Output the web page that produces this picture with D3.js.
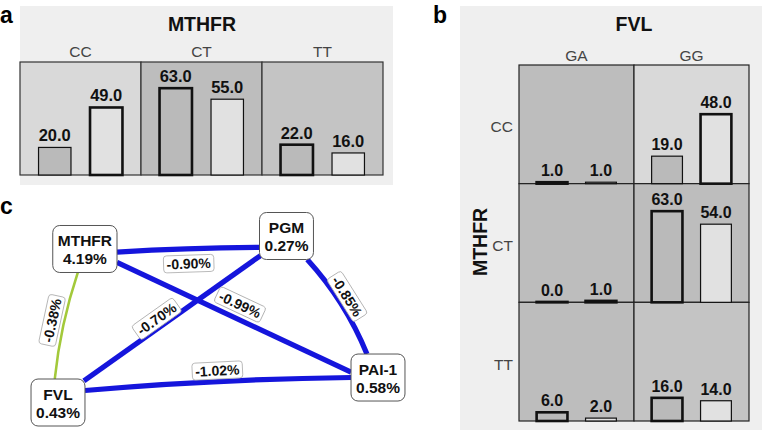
<!DOCTYPE html>
<html><head><meta charset="utf-8">
<script src="https://cdn.jsdelivr.net/npm/d3@7"></script>
<style>
body{margin:0;background:#fff;}
svg{display:block;font-family:"Liberation Sans",Arial,sans-serif;}
</style></head>
<body><svg id="c" width="762" height="434"></svg>
<script>
// ---------- DATA ----------
const mthfrGenotypes = ["CC", "CT", "TT"];
const fvlGenotypes = ["GA", "GG"];
// panel a: MTHFR genotype counts, two groups
const panelAGroup1 = [20, 63, 22];
const panelAGroup2 = [49, 55, 16];
const panelAGroup1Over = [false, true, true];
const panelAGroup2Over = [true, false, false];
const panelACellLevel = [0, 2, 1];
// panel b: rows = MTHFR, columns = FVL
const panelBGroup1 = [[1, 19], [0, 63], [6, 16]];
const panelBGroup2 = [[1, 48], [1, 54], [2, 14]];
const panelBGroup1Over = [[true, false], [true, true], [true, true]];
const panelBGroup2Over = [[false, true], [true, false], [false, false]];
const panelBCellLevel = [[2, 0], [2, 2], [2, 1]];
// panel c: interaction network
const nodeNames = ["MTHFR", "PGM", "PAI-1", "FVL"];
const nodeValues = ["4.19%", "0.27%", "0.58%", "0.43%"];
const edgeSource = ["MTHFR", "MTHFR", "PGM", "PGM", "FVL", "MTHFR"];
const edgeTarget = ["PGM", "PAI-1", "FVL", "PAI-1", "PAI-1", "FVL"];
const edgeValues = [-0.90, -0.99, -0.70, -0.85, -1.02, -0.38];

// ---------- LAYOUT ----------
const nodeLayoutX = [8.4, 71.4, 100, 0];
const nodeLayoutY = [7.8, 0, 85, 100];
const edgeSrcAnchor = [[1, 0.13], [1, 0.57], [-0.96, 0.83], [0.77, 1], [1, -0.51], [-0.22, 1]];
const edgeTgtAnchor = [[-1, 0.48], [-1, -0.23], [0.96, -0.92], [-0.41, -1], [-1, 0], [-0.12, -1]];
const edgeBend = [-1, 0, 0, -5, -2.5, 3];
const edgeLabelT = [0.5, 0.5, 0.56, 0.47, 0.5, 0.48];
const edgeLabelOffset = [14, -14, 8.5, -14, -13.5, 15];

const svg = d3.select("#c");
const shade = ["#d9d9d9", "#c4c4c4", "#bdbdbd"];
const fill1 = "#bababa", fill2 = "#e1e1e1";
const yMax = 82;
const fmtNum = v => d3.format(".1f")(v);
const fmtPct = v => d3.format(".2f")(v).replace("\u2212", "-") + "%";

function bars(g, x0, x1, yBottom, yTop, v1, v2, o1, o2, labelSize) {
  const inner = d3.scaleBand().domain([0, 1]).range([x0, x1]).paddingInner(0.37).paddingOuter(0.36);
  const y = d3.scaleLinear().domain([0, yMax]).range([yBottom, yTop]);
  const data = [{i: 0, v: v1, o: o1, f: fill1}, {i: 1, v: v2, o: o2, f: fill2}];
  g.selectAll(null).data(data).enter().append("rect")
    .attr("x", d => inner(d.i)).attr("width", inner.bandwidth())
    .attr("y", d => Math.min(y(d.v), yBottom - 0.4)).attr("height", d => Math.max(yBottom - y(d.v), 0.4))
    .attr("fill", d => d.f).attr("stroke", "#111")
    .attr("stroke-width", d => d.o ? 2.6 : 1.2);
  g.selectAll(null).data(data).enter().append("text")
    .attr("x", d => inner(d.i) + inner.bandwidth() / 2)
    .attr("y", d => y(d.v) - 6)
    .attr("text-anchor", "middle").attr("font-weight", "bold")
    .attr("font-size", labelSize).attr("fill", "#111")
    .text(d => fmtNum(d.v));
}

// ---------- PANEL A ----------
{
  svg.append("rect").attr("x", 20).attr("y", 6).attr("width", 373).attr("height", 179).attr("fill", "#efefef");
  const gx = d3.scaleBand().domain(mthfrGenotypes).range([20, 383]);
  const top = 62, bottom = 175;
  const g = svg.append("g");
  mthfrGenotypes.forEach((k, i) => {
    g.append("rect").attr("x", gx(k)).attr("y", top).attr("width", gx.bandwidth()).attr("height", bottom - top)
      .attr("fill", shade[panelACellLevel[i]]).attr("stroke", "#333").attr("stroke-width", 1.2);
  });
  mthfrGenotypes.forEach((k, i) => {
    bars(g, gx(k), gx(k) + gx.bandwidth(), bottom, top, panelAGroup1[i], panelAGroup2[i], panelAGroup1Over[i], panelAGroup2Over[i], 16.5);
    g.append("text").attr("x", gx(k) + gx.bandwidth() / 2).attr("y", 57).attr("text-anchor", "middle")
      .attr("font-size", 15.5).attr("fill", "#444").text(k);
  });
  g.append("text").attr("x", 202).attr("y", 31).attr("text-anchor", "middle").attr("font-weight", "bold")
    .attr("font-size", 19.5).attr("fill", "#111").text("MTHFR");
  svg.append("text").attr("x", 0).attr("y", 23).attr("font-weight", "bold").attr("font-size", 23).text("a");
}

// ---------- PANEL B ----------
{
  svg.append("rect").attr("x", 460).attr("y", 6).attr("width", 302).attr("height", 424).attr("fill", "#efefef");
  const cx = d3.scaleBand().domain(fvlGenotypes).range([519, 749]);
  const ry = d3.scaleBand().domain(mthfrGenotypes).range([65, 421]);
  const g = svg.append("g");
  mthfrGenotypes.forEach((r, ri) => fvlGenotypes.forEach((c, ci) => {
    g.append("rect").attr("x", cx(c)).attr("y", ry(r)).attr("width", cx.bandwidth()).attr("height", ry.bandwidth())
      .attr("fill", shade[panelBCellLevel[ri][ci]]).attr("stroke", "#222").attr("stroke-width", 1.2);
  }));
  mthfrGenotypes.forEach((r, ri) => fvlGenotypes.forEach((c, ci) => {
    bars(g, cx(c), cx(c) + cx.bandwidth(), ry(r) + ry.bandwidth(), ry(r),
      panelBGroup1[ri][ci], panelBGroup2[ri][ci], panelBGroup1Over[ri][ci], panelBGroup2Over[ri][ci], 16);
  }));
  fvlGenotypes.forEach(c => g.append("text").attr("x", cx(c) + cx.bandwidth() / 2).attr("y", 61)
    .attr("text-anchor", "middle").attr("font-size", 15.5).attr("fill", "#444").text(c));
  mthfrGenotypes.forEach(r => g.append("text").attr("x", 513).attr("y", ry(r) + ry.bandwidth() / 2 + 8)
    .attr("text-anchor", "end").attr("font-size", 15.5).attr("fill", "#444").text(r));
  g.append("text").attr("x", 634).attr("y", 31).attr("text-anchor", "middle").attr("font-weight", "bold")
    .attr("font-size", 19.5).attr("fill", "#111").text("FVL");
  g.append("text").attr("transform", "translate(487,242) rotate(-90)").attr("text-anchor", "middle")
    .attr("font-weight", "bold").attr("font-size", 19.5).attr("fill", "#111").text("MTHFR");
  svg.append("text").attr("x", 433).attr("y", 23).attr("font-weight", "bold").attr("font-size", 23).text("b");
}

// ---------- PANEL C ----------
{
  svg.append("text").attr("x", 0).attr("y", 214).attr("font-weight", "bold").attr("font-size", 23).text("c");
  const lx = d3.scaleLinear().domain([0, 100]).range([58, 378]);
  const ly = d3.scaleLinear().domain([0, 100]).range([236, 402.5]);
  const measure = svg.append("text").attr("font-weight", "bold").attr("font-size", 15.5);
  const nodes = nodeNames.map((n, i) => {
    measure.text(n); const w1 = measure.node().getComputedTextLength();
    measure.text(nodeValues[i]); const w2 = measure.node().getComputedTextLength();
    return {name: n, value: nodeValues[i], x: lx(nodeLayoutX[i]), y: ly(nodeLayoutY[i]),
      hw: (Math.max(w1, w2) + 10) / 2, hh: 23.5};
  });
  measure.remove();
  const byName = new Map(nodes.map(d => [d.name, d]));
  const width = d3.scaleLinear().domain([0.38, 0.7]).range([2.5, 5.2]).clamp(true);
  const color = d3.scaleThreshold().domain([0.5]).range(["#a3c93a", "#1515dc"]);
  const edges = edgeValues.map((v, i) => {
    const s = byName.get(edgeSource[i]), t = byName.get(edgeTarget[i]);
    const p0 = [s.x + edgeSrcAnchor[i][0] * s.hw, s.y + edgeSrcAnchor[i][1] * s.hh];
    const p1 = [t.x + edgeTgtAnchor[i][0] * t.hw, t.y + edgeTgtAnchor[i][1] * t.hh];
    const dx = p1[0] - p0[0], dy = p1[1] - p0[1], len = Math.hypot(dx, dy);
    const nv = [-dy / len, dx / len];
    const mid = [(p0[0] + p1[0]) / 2, (p0[1] + p1[1]) / 2];
    const ctrl = [mid[0] + nv[0] * 2 * edgeBend[i], mid[1] + nv[1] * 2 * edgeBend[i]];
    const tt = edgeLabelT[i];
    const lab = [p0[0] + dx * tt + nv[0] * edgeLabelOffset[i], p0[1] + dy * tt + nv[1] * edgeLabelOffset[i]];
    let ang = Math.atan2(dy, dx) * 180 / Math.PI;
    if (ang > 90) ang -= 180; if (ang < -90) ang += 180;
    return {v, p0, p1, ctrl, lab, ang};
  });
  const ge = svg.append("g");
  ge.selectAll("path").data(edges).enter().append("path")
    .attr("d", d => { const p = d3.path(); p.moveTo(d.p0[0], d.p0[1]); p.quadraticCurveTo(d.ctrl[0], d.ctrl[1], d.p1[0], d.p1[1]); return p.toString(); })
    .attr("fill", "none").attr("stroke", d => color(Math.abs(d.v))).attr("stroke-width", d => width(Math.abs(d.v)))
    .attr("stroke-linecap", "butt");
  const gl = svg.append("g").selectAll("g").data(edges).enter().append("g")
    .attr("transform", d => `translate(${d.lab[0]},${d.lab[1]}) rotate(${d.ang})`);
  gl.append("text").attr("text-anchor", "middle").attr("y", 5).attr("font-weight", "bold")
    .attr("font-size", 14).attr("fill", "#111").text(d => fmtPct(d.v));
  gl.each(function () {
    const t = d3.select(this).select("text"); const w = t.node().getComputedTextLength();
    d3.select(this).insert("rect", "text").attr("x", -w / 2 - 3).attr("y", -8.5).attr("width", w + 6).attr("height", 17)
      .attr("rx", 3).attr("fill", "#fff").attr("stroke", "#aaa").attr("stroke-width", 0.8);
  });
  const gn = svg.append("g").selectAll("g").data(nodes).enter().append("g")
    .attr("transform", d => `translate(${d.x},${d.y})`);
  gn.append("rect").attr("x", d => -d.hw).attr("y", d => -d.hh).attr("width", d => 2 * d.hw).attr("height", d => 2 * d.hh)
    .attr("rx", 7).attr("fill", "#fff").attr("stroke", "#555").attr("stroke-width", 1);
  gn.append("text").attr("text-anchor", "middle").attr("y", -3).attr("font-weight", "bold").attr("font-size", 15.5)
    .attr("fill", "#111").text(d => d.name);
  gn.append("text").attr("text-anchor", "middle").attr("y", 15).attr("font-weight", "bold").attr("font-size", 15.5)
    .attr("fill", "#111").text(d => d.value);
}
</script></body></html>
